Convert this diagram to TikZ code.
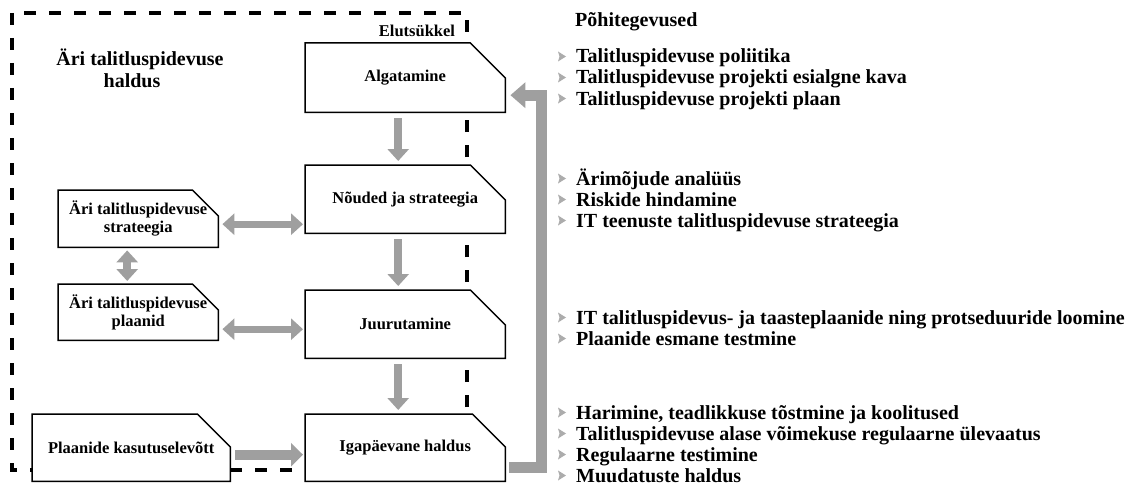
\documentclass[tikz,border=0pt]{standalone}
\usepackage{fontspec}
\setmainfont{Liberation Serif}
\usetikzlibrary{arrows.meta,calc}
\tikzset{
  box/.style={rectangle, fill=white, inner sep=0pt, anchor=north west, align=center,
    font=\fontsize{16.5}{18}\selectfont\bfseries},
  outline/.style={line width=1.5pt, line join=miter},
  frame/.style={line width=4pt, dash pattern=on 12pt off 13pt},
  blk/.style={draw=gray!75, line width=#1},
  blk/.default=8pt,
  Btip/.tip={Triangle[length=12pt,width=21pt]},
  item/.style={anchor=base west, inner sep=0pt, font=\fontsize{20}{21}\selectfont\bfseries},
  bulletmark/.style={fill=gray!65},
  title/.style={align=center, inner sep=0pt, font=\fontsize{20}{22}\selectfont\bfseries},
}
\newcommand\cutoutline[2]{\draw[outline] (#1.north west) -- ([xshift=-#2]#1.north east) -- ([yshift=-#2]#1.north east) -- (#1.south east) -- (#1.south west) -- cycle;}
\begin{document}
\begin{tikzpicture}[x=1pt,y=-1pt]
\useasboundingbox (0,0) rectangle (1130,487);
% dashed frame
\draw[frame] (12,13) rectangle (467,470);
% boxes
\node[box, minimum width=200pt, minimum height=69pt] (al) at (305,43) {Algatamine};
\node[box, minimum width=200pt, minimum height=68pt] (no) at (305,165) {Nõuded ja strateegia};
\node[box, minimum width=200pt, minimum height=68pt] (ju) at (305,290) {Juurutamine};
\node[box, minimum width=200pt, minimum height=67pt] (ig) at (305,414) {\raisebox{-5pt}{Igapäevane haldus}};
\node[box, minimum width=160pt, minimum height=57pt] (st) at (58,190) {Äri talitluspidevuse\\strateegia};
\node[box, minimum width=160pt, minimum height=56pt] (pl) at (58,284) {Äri talitluspidevuse\\plaanid};
\node[box, minimum width=198pt, minimum height=67pt] (pk) at (32,414) {\raisebox{-6pt}{Plaanide kasutuselevõtt}};
\cutoutline{al}{35pt}
\cutoutline{no}{35pt}
\cutoutline{ju}{35pt}
\cutoutline{ig}{33pt}
\cutoutline{st}{26pt}
\cutoutline{pl}{26pt}
\cutoutline{pk}{33pt}
% labels
\node[title] (ttl) at (140,68) {Äri talitluspidevuse\\\hspace*{-16pt}haldus};
\node[font=\fontsize{16.5}{18}\selectfont\bfseries, inner sep=0pt] (elu) at (417,31) {Elutsükkel};
% down arrows
\draw[blk, -Btip, shorten <=6pt, shorten >=4pt] ([xshift=-7pt]al.south) -- ([xshift=-7pt]no.north);
\draw[blk, -Btip, shorten <=6pt, shorten >=4pt] ([xshift=-7pt]no.south) -- ([xshift=-7pt]ju.north);
\draw[blk, -Btip, shorten <=6pt, shorten >=4pt] ([xshift=-7pt]ju.south) -- ([xshift=-7pt]ig.north);
% horizontal double arrows
\draw[blk=7pt, Btip-Btip, shorten <=2pt, shorten >=4pt] ([yshift=-25pt]no.west) -- ([yshift=-25pt]no.west -| st.east);
\draw[blk=7pt, Btip-Btip, shorten <=2pt, shorten >=4pt] ([yshift=-5pt]ju.west) -- ([yshift=-5pt]ju.west -| pl.east);
% vertical double arrow
\draw[blk=8pt, Btip-Btip, shorten <=3pt, shorten >=3pt] ([xshift=-11pt]st.south) -- ([xshift=-11pt]pl.north);
% plaanide -> igapaevane
\draw[blk=10pt, -{Triangle[length=12pt,width=23pt]}, shorten <=5pt, shorten >=2pt] ([yshift=-7pt]pk.east) -- ([yshift=-7pt]pk.east -| ig.west);
% big return connector
\draw[blk=11pt, line join=miter, -{Triangle[length=15pt,width=25pt]}, shorten <=4pt, shorten >=5pt]
  ([yshift=-20pt]ig.east) -- ([yshift=-20pt,xshift=36pt]ig.east) -- ([yshift=-17.5pt,xshift=36pt]al.east) -- ([yshift=-17.5pt]al.east);
% right column
\node[item] (hd) at (575,27) {Põhitegevused};
\foreach \y/\t [count=\i] in {
  63/{Talitluspidevuse poliitika},
  84/{Talitluspidevuse projekti esialgne kava},
  105/{Talitluspidevuse projekti plaan},
  185/{Ärimõjude analüüs},
  206/{Riskide hindamine},
  227/{IT teenuste talitluspidevuse strateegia},
  324/{IT talitluspidevus- ja taasteplaanide ning protseduuride loomine},
  345/{Plaanide esmane testmine},
  419/{Harimine, teadlikkuse tõstmine ja koolitused},
  440/{Talitluspidevuse alase võimekuse regulaarne ülevaatus},
  461/{Regulaarne testimine},
  482/{Muudatuste haldus}} {
  \node[item] (r\i) at (576,\y) {\t};
  \fill[bulletmark] ($(r\i.base west)+(-18,-1.5)$) -- ++(8,-5) -- ++(-8,-5) -- ++(1.5,5) -- cycle;
}
\end{tikzpicture}
\end{document}
